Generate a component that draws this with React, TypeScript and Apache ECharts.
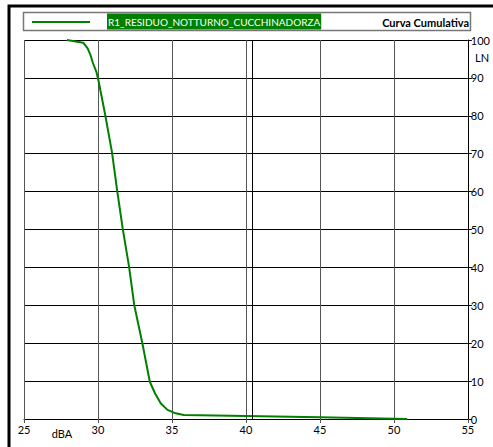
import React, { useEffect, useRef } from "react";
import * as echarts from "echarts";

const seriesName = "R1_RESIDUO_NOTTURNO_CUCCHINADORZA";
const chartTitle = "Curva Cumulativa";
const levelsDbA = [27.9, 29.0, 29.3, 29.5, 29.65, 29.9, 30.05, 30.5, 30.95, 31.3, 31.67, 32.1, 32.45, 33.0, 33.5, 33.85, 34.25, 34.7, 35.25, 35.8, 40, 45, 50.9];
const percentLN = [100, 99.3, 97.8, 96, 94, 91.5, 89, 80, 70.3, 60.2, 50.3, 40.2, 30.1, 20, 9.9, 6.8, 4.1, 2.4, 1.5, 1.05, 0.8, 0.45, 0];
const markerDbA = [40.45];

const FONT = "Lato, 'Open Sans', sans-serif";

export default function App() {
  const ref = useRef<HTMLDivElement>(null);
  useEffect(() => {
    if (!ref.current) return;
    const chart = echarts.init(ref.current, undefined, { renderer: "svg" });
    const data = levelsDbA.map((x, i) => [x, percentLN[i]]);
    chart.setOption({
      animation: false,
      backgroundColor: "#fff",
      textStyle: { fontFamily: FONT },
      grid: { left: 24, right: 22, top: 40, bottom: 28 },
      xAxis: {
        type: "value",
        min: 25,
        max: 55,
        interval: 5,
        axisLine: { show: true, lineStyle: { color: "#000", width: 1 } },
        axisTick: { show: true, length: 4, lineStyle: { color: "#555" } },
        axisLabel: { color: "#000", fontSize: 11, fontFamily: FONT, margin: 5 },
        splitLine: { show: true, lineStyle: { color: "#555", width: 1 } },
      },
      yAxis: {
        type: "value",
        position: "right",
        min: 0,
        max: 100,
        interval: 10,
        axisLine: { show: true, lineStyle: { color: "#000", width: 1 } },
        axisTick: { show: true, length: 4, lineStyle: { color: "#000" } },
        axisLabel: { color: "#000", fontSize: 11, fontFamily: FONT, margin: 3 },
        splitLine: { show: true, lineStyle: { color: "#000", width: 1 } },
      },
      series: [
        {
          type: "line",
          name: seriesName,
          data,
          showSymbol: false,
          symbol: "none",
          lineStyle: { color: "#008000", width: 2 },
          markLine: {
            silent: true,
            symbol: "none",
            label: { show: false },
            lineStyle: { color: "#000", width: 1, type: "solid" },
            data: markerDbA.map((v) => ({ xAxis: v })),
          },
        },
      ],
      graphic: [
        {
          type: "rect",
          shape: { x: 9, y: 6, width: 520, height: 520 },
          style: { fill: "none", stroke: "#000", lineWidth: 3 },
        },
        {
          type: "rect",
          shape: { x: 23.5, y: 12.5, width: 447, height: 18 },
          style: { fill: "none", stroke: "#777", lineWidth: 1.5 },
        },
        {
          type: "line",
          shape: { x1: 32, y1: 22, x2: 90, y2: 22 },
          style: { stroke: "#008000", lineWidth: 2 },
        },
        {
          type: "text",
          x: 107,
          y: 21.5,
          style: {
            text: seriesName,
            fill: "#fff",
            backgroundColor: "#008000",
            padding: [3, 1, 3, 1],
            font: `10px ${FONT}`,
            verticalAlign: "middle",
            align: "left",
          },
        },
        {
          type: "text",
          x: 469,
          y: 22,
          style: {
            text: chartTitle,
            fill: "#000",
            font: `bold 11px ${FONT}`,
            verticalAlign: "middle",
            align: "right",
          },
        },
        {
          type: "text",
          x: 475,
          y: 57,
          style: { text: "LN", fill: "#000", font: `11px ${FONT}`, verticalAlign: "middle", align: "left" },
        },
        {
          type: "text",
          x: 62,
          y: 433,
          style: { text: "dBA", fill: "#000", font: `11px ${FONT}`, verticalAlign: "middle", align: "center" },
        },
      ],
    });
    return () => chart.dispose();
  }, []);
  return <div ref={ref} style={{ position: "fixed", left: 0, top: 0, width: 493, height: 447 }} />;
}
